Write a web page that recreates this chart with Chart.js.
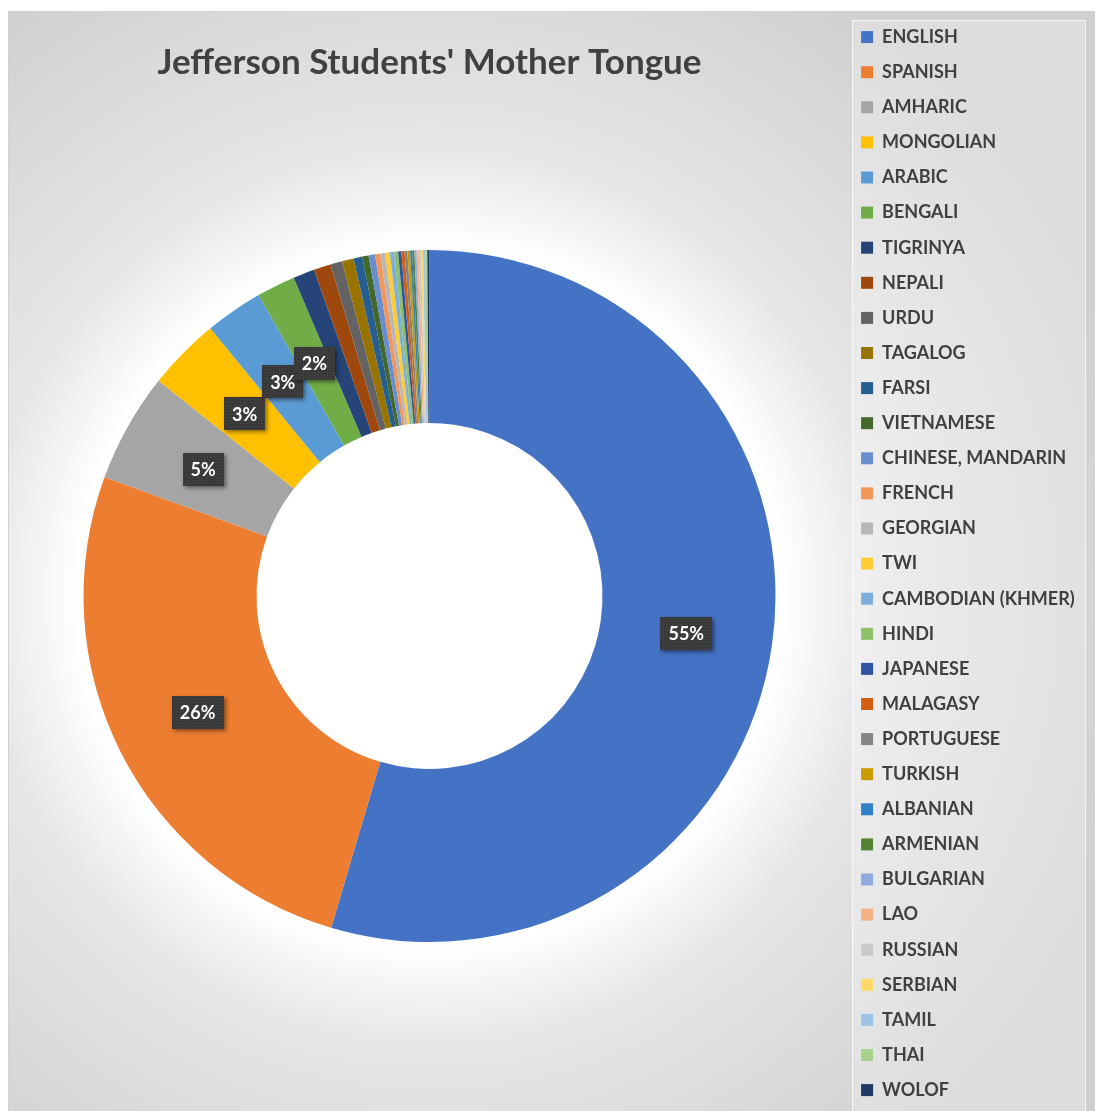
<!DOCTYPE html>
<html>
<head>
<meta charset="utf-8">
<title>Jefferson Students' Mother Tongue</title>
<script src="https://cdn.jsdelivr.net/npm/chart.js@4.4.1/dist/chart.umd.min.js"></script>
<style>
    html, body { margin: 0; padding: 0; background: #fff; overflow: hidden; }
    #frame {
        position: absolute; left: 8px; top: 11px; width: 1087px; height: 1110px;
        background: radial-gradient(circle at 422px 585px, #ffffff 0px, #ffffff 350px, #e6e6e6 450px, #d0d0d0 720px);
        box-shadow: inset 1px 1px 0 #d2d2d2, inset -1px 0 0 #d2d2d2;
    }
    #chart { position: absolute; left: 0; top: 0; }
</style>
</head>
<body>
<div id="frame"><canvas id="chart" width="1087" height="1110"></canvas></div>
<script>
// 语言名称（图例顺序）
const languages = [
    'ENGLISH', 'SPANISH', 'AMHARIC', 'MONGOLIAN', 'ARABIC', 'BENGALI', 'TIGRINYA', 'NEPALI',
    'URDU', 'TAGALOG', 'FARSI', 'VIETNAMESE', 'CHINESE, MANDARIN', 'FRENCH', 'GEORGIAN', 'TWI',
    'CAMBODIAN (KHMER)', 'HINDI', 'JAPANESE', 'MALAGASY', 'PORTUGUESE', 'TURKISH', 'ALBANIAN',
    'ARMENIAN', 'BULGARIAN', 'LAO', 'RUSSIAN', 'SERBIAN', 'TAMIL', 'THAI', 'WOLOF'
];

// 各语言占比（%，按图估读）
const shares = [
    54.6, 26.0, 5.1, 3.4, 2.7, 1.8, 1.0, 0.8,
    0.55, 0.55, 0.4, 0.3, 0.3, 0.25, 0.22, 0.22,
    0.2, 0.18, 0.15, 0.15, 0.13, 0.12, 0.1,
    0.1, 0.1, 0.1, 0.1, 0.1, 0.1, 0.1, 0.1
];

// Office 配色
const sliceColors = [
    '#4472C4', '#ED7D31', '#A5A5A5', '#FFC000', '#5B9BD5', '#70AD47', '#264478', '#9E480E',
    '#636363', '#997300', '#255E91', '#43682B', '#698ED0', '#F1975A', '#B7B7B7', '#FFCD33',
    '#7CAFDD', '#8CC168', '#2F55A2', '#D26012', '#848484', '#CC9A00', '#2F80C6',
    '#548235', '#8FAADC', '#F4B183', '#C9C9C9', '#FFD966', '#9DC3E6', '#A9D18E', '#203864'
];

// 图例背景板
const legendPanel = {
    id: 'legendPanel',
    beforeDraw(chart) {
        const lg = chart.legend;
        const ctx = chart.ctx;
        ctx.save();
        ctx.fillStyle = 'rgba(255, 255, 255, 0.28)';
        ctx.fillRect(lg.left + 8, 9, 233, chart.height);
        ctx.strokeStyle = 'rgba(255, 255, 255, 0.7)';
        ctx.lineWidth = 1;
        ctx.strokeRect(lg.left + 8.5, 9.5, 233, chart.height);
        ctx.restore();
    }
};

// 数据标签（深色底框）
const dots = document.createElement('canvas');
dots.width = 3;
dots.height = 3;
const dctx = dots.getContext('2d');
dctx.fillStyle = '#393939';
dctx.fillRect(0, 0, 3, 3);
dctx.fillStyle = '#4a4a4a';
dctx.fillRect(1, 1, 1, 1);

const sliceLabels = {
    id: 'sliceLabels',
    afterDatasetsDraw(chart) {
        const ctx = chart.ctx;
        const meta = chart.getDatasetMeta(0);
        const values = chart.data.datasets[0].data;
        const total = values.reduce((a, b) => a + b, 0);
        const pattern = ctx.createPattern(dots, 'repeat');
        ctx.save();
        ctx.font = 'bold 18px Lato';
        ctx.textAlign = 'center';
        ctx.textBaseline = 'middle';
        meta.data.forEach(function(arc, i) {
            const pct = values[i] / total * 100;
            if (pct < 1.5) return;
            const text = Math.round(pct) + '%';
            const p = arc.tooltipPosition();
            const w = Math.round(ctx.measureText(text).width + 16);
            const h = 33;
            const x = Math.round(p.x - w / 2);
            const y = Math.round(p.y - h / 2);
            ctx.save();
            ctx.shadowColor = 'rgba(0, 0, 0, 0.45)';
            ctx.shadowBlur = 4;
            ctx.shadowOffsetX = 2;
            ctx.shadowOffsetY = 2;
            ctx.fillStyle = '#393939';
            ctx.fillRect(x, y, w, h);
            ctx.restore();
            ctx.fillStyle = pattern;
            ctx.fillRect(x, y, w, h);
            ctx.fillStyle = '#ffffff';
            ctx.fillText(text, p.x, p.y + 1);
        });
        ctx.restore();
    }
};

function drawChart() {
    new Chart(document.getElementById('chart'), {
        type: 'doughnut',
        data: {
            labels: languages,
            datasets: [{
                data: shares,
                backgroundColor: sliceColors,
                borderWidth: 0
            }]
        },
        options: {
            responsive: false,
            animation: false,
            radius: 346,
            cutout: '50%',
            layout: {
                padding: { left: 7, right: 21, top: 0, bottom: 0 }
            },
            plugins: {
                title: {
                    display: true,
                    text: "Jefferson Students' Mother Tongue",
                    fullSize: false,
                    color: '#404040',
                    font: { family: 'Lato', size: 35, weight: 'bold', lineHeight: 1 },
                    padding: { top: 34.5, bottom: -9.5 }
                },
                legend: {
                    position: 'right',
                    align: 'start',
                    maxWidth: 230,
                    labels: {
                        color: '#404040',
                        font: { family: 'Lato', size: 18, weight: 'bold' },
                        boxWidth: 12,
                        boxHeight: 12,
                        padding: 17.1
                    }
                },
                tooltip: { enabled: false }
            }
        },
        plugins: [legendPanel, sliceLabels]
    });
}

document.fonts.load('bold 18px Lato').then(drawChart, drawChart);
</script>
</body>
</html>
